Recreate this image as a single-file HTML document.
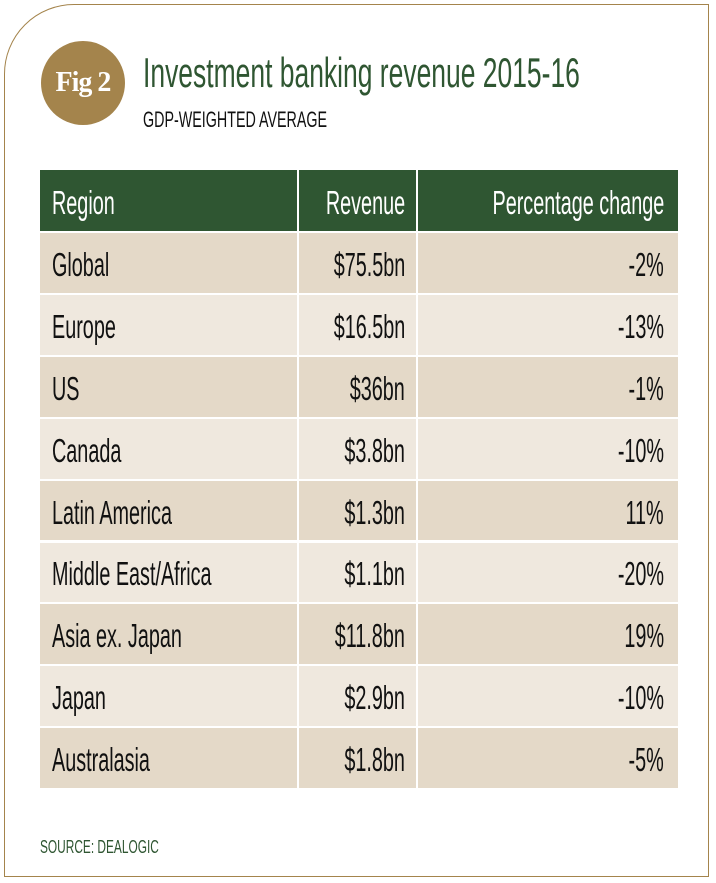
<!DOCTYPE html>
<html><head><meta charset="utf-8">
<style>
body{margin:0;background:#fff;width:716px;height:883px;overflow:hidden;position:relative;font-family:"Liberation Sans",sans-serif}
.frame{position:absolute;left:4px;top:4px;width:705px;height:873px;border:1.5px solid #a4844c;border-top-left-radius:70px;box-sizing:border-box}
.t{position:absolute;white-space:nowrap;display:inline-block}
.l{transform-origin:left center;transform:scaleX(0.6)}
.r{transform-origin:right center;transform:scaleX(0.6)}
.cell{position:absolute}
</style></head><body>
<div class="frame"></div>
<div style="position:absolute;left:41px;top:41px;width:84px;height:84px;border-radius:50%;background:#a4844c;color:#fff;font-family:'Liberation Serif',serif;font-weight:bold;font-size:28px;line-height:84px;text-align:center;letter-spacing:-1px">Fig 2</div>
<div class="t l" style="left:143px;top:50px;font-size:42px;color:#2f5632;line-height:46px;transform:scaleX(0.63)">Investment banking revenue 2015-16</div>
<div class="t l" style="left:143px;top:108px;font-size:22px;color:#111;line-height:24px;transform:scaleX(0.65)">GDP-WEIGHTED AVERAGE</div>
<div id="table"></div>
<div class="t l" style="left:40px;top:837px;font-size:18px;color:#2f5632;line-height:20px;transform:scaleX(0.66)">SOURCE: DEALOGIC</div>
<script>
const regions=["Global","Europe","US","Canada","Latin America","Middle East/Africa","Asia ex. Japan","Japan","Australasia"];
const revenues=["$75.5bn","$16.5bn","$36bn","$3.8bn","$1.3bn","$1.1bn","$11.8bn","$2.9bn","$1.8bn"];
const changes=["-2%","-13%","-1%","-10%","11%","-20%","19%","-10%","-5%"];
const headers=["Region","Revenue","Percentage change"];
const tb=document.getElementById('table');
const L=40,D1=298,D2=417,R=678,H0=170,HH=61,RH=61.9;
function cell(x,y,w,h,bg,name){const d=document.createElement('div');d.className='cell';


d.style.cssText=`left:${x}px;top:${y}px;width:${w}px;height:${h}px;background:${bg}`;tb.appendChild(d);return d;}
function txt(x,y,s,align,size,color,bold,name){const d=document.createElement('div');d.className='t '+(align=='l'?'l':'r');


d.textContent=s;d.style.fontSize=size+'px';d.style.color=color;d.style.lineHeight='40px';d.style.top=(y-18)+'px';
if(bold)d.style.fontWeight='bold';
if(align=='l')d.style.left=x+'px';else d.style.right=(716-x)+'px';tb.appendChild(d);}
cell(L,H0,D1-L-1,HH,'#2f5632','header-region');
cell(D1+1,H0,D2-D1-2,HH,'#2f5632','header-revenue');
cell(D2+1,H0,R-D2-1,HH,'#2f5632','header-change');
txt(52,H0+HH/2,headers[0],'l',33,'#fff',false,'header-region-label');
txt(405,H0+HH/2,headers[1],'r',33,'#fff',false,'header-revenue-label');
txt(664,H0+HH/2,headers[2],'r',33,'#fff',false,'header-change-label');
regions.forEach((reg,i)=>{
 const y=H0+HH+2+i*RH, h=RH-2, bg=i%2?'#efe8de':'#e4d9c8';
 cell(L,y,D1-L-1,h,bg,'row-region-cell');
 cell(D1+1,y,D2-D1-2,h,bg,'row-revenue-cell');
 cell(D2+1,y,R-D2-1,h,bg,'row-change-cell');
 txt(52,y+h/2,reg,'l',33,'#111',false,'region-label');
 txt(405,y+h/2,revenues[i],'r',33,'#111',false,'revenue-value');
 txt(664,y+h/2,changes[i],'r',33,'#111',false,'change-value');
});
</script>
</body></html>
